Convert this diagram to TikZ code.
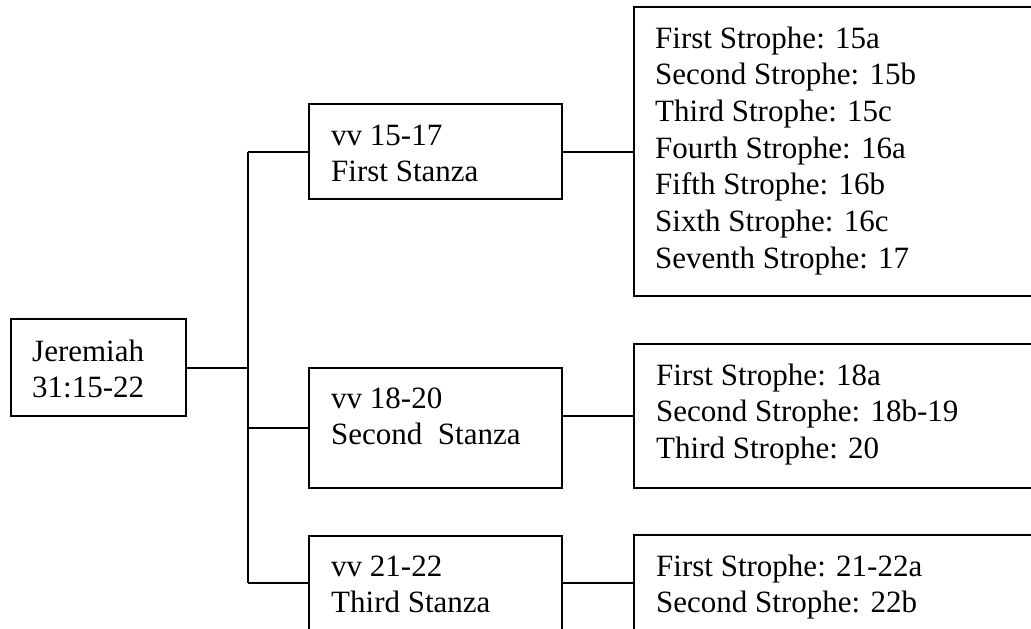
\documentclass[tikz,border=0pt]{standalone}
\usepackage{fontspec}
\setmainfont{Liberation Serif}
\usetikzlibrary{calc}
\tikzset{
  box/.style={draw, line width=2pt, rectangle, inner sep=0pt},
  txt/.style={anchor=base west, inner sep=0pt,
    font=\fontsize{31}{36.7}\selectfont},
  link/.style={draw, line width=2pt}
}
\newcommand{\lines}[1]{\begin{tabular}[t]{@{}l@{}}#1\end{tabular}}
\begin{document}
\begin{tikzpicture}[x=1pt, y=-1pt]
  \useasboundingbox (0,0) rectangle (1031,629);
  % root
  \node[box, minimum width=175pt, minimum height=97pt] (root) at (98.5,367.5) {};
  \node[txt] (roott) at (32,361) {\lines{Jeremiah\\31:15-22}};
  % stanzas
  \node[box, minimum width=253pt, minimum height=95pt] (s1) at (435.5,151.5) {};
  \node[txt] (s1t) at (331,145) {\lines{vv 15-17\\First Stanza}};
  \node[box, minimum width=253pt, minimum height=120pt] (s2) at (435.5,428) {};
  \node[txt] (s2t) at (331,408) {\lines{vv 18-20\\Second\ \ Stanza}};
  \node[box, minimum width=253pt, minimum height=95pt] (s3) at (435.5,583) {};
  \node[txt] (s3t) at (331,576) {\lines{vv 21-22\\Third Stanza}};
  % strophes (running off the right edge)
  \node[box, minimum width=440pt, minimum height=289pt] (p1) at (854,151.5) {};
  \node[txt] (p1t) at (655,48) {\lines{First Strophe: 15a\\Second Strophe: 15b\\Third Strophe: 15c\\Fourth Strophe: 16a\\Fifth Strophe: 16b\\Sixth Strophe: 16c\\Seventh Strophe: 17}};
  \node[box, minimum width=440pt, minimum height=144pt] (p2) at (854,416) {};
  \node[txt] (p2t) at (656,385) {\lines{First Strophe: 18a\\Second Strophe: 18b-19\\Third Strophe: 20}};
  \node[box, minimum width=440pt, minimum height=96pt] (p3) at (854,583) {};
  \node[txt] (p3t) at (656,576) {\lines{First Strophe: 21-22a\\Second Strophe: 22b}};
  % connectors
  \coordinate (spine) at (247.5,0);
  \draw[link] (root.east) -- (spine |- root.east);
  \draw[link] (spine |- s1.west) -- (spine |- s3.west);
  \draw[link] (spine |- s1.west) -- (s1.west);
  \draw[link] (spine |- s2.west) -- (s2.west);
  \draw[link] (spine |- s3.west) -- (s3.west);
  \draw[link] (s1.east |- p1.west) -- (p1.west);
  \draw[link] (s2.east |- p2.west) -- (p2.west);
  \draw[link] (s3.east |- p3.west) -- (p3.west);
\end{tikzpicture}
\end{document}
